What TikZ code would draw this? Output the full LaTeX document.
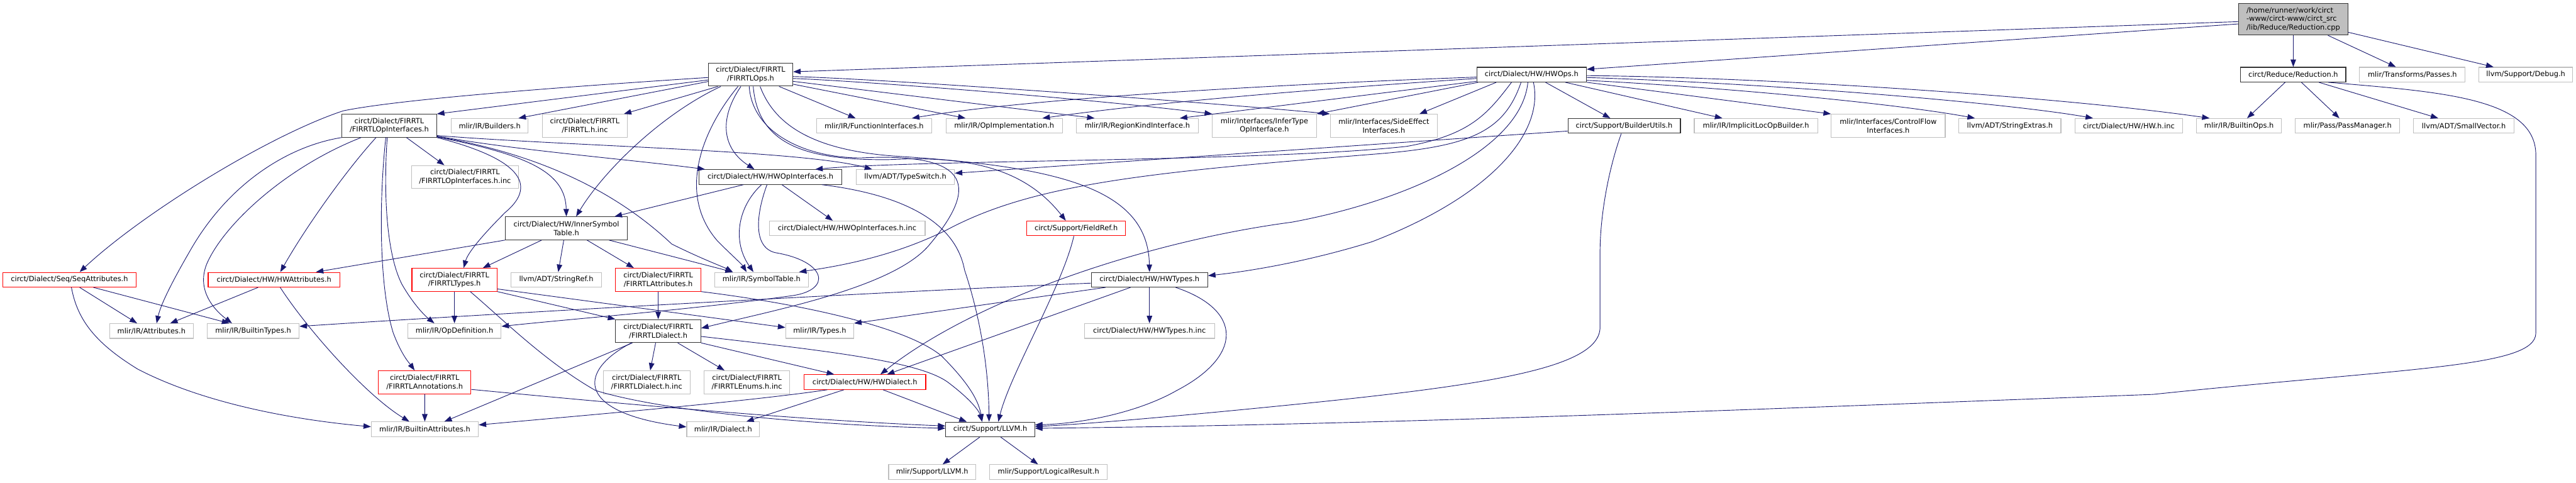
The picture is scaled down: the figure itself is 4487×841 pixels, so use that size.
\documentclass[tikz,border=0pt]{standalone}
\usepackage{fontspec}
\setmainfont{DejaVu Sans}
\usepackage{tikz}
\usetikzlibrary{arrows.meta}
\definecolor{EdgeBlue}{HTML}{191970}
\definecolor{BoxGrey}{HTML}{BFBFBF}
\definecolor{BoxRed}{HTML}{FF0000}

\begin{document}
\begin{tikzpicture}[x=1pt, y=-1pt,
  hdr/.style={rectangle, draw=BoxGrey, line width=1.2pt, fill=white, inner xsep=6pt, inner ysep=3pt,
    minimum height=25.6pt, align=center, font=\fontsize{12.5}{15}\selectfont},
  hdrdoc/.style={hdr, draw=black!80},
  hdrcut/.style={hdr, draw=BoxRed},
  hdrroot/.style={hdr, draw=black!80, fill=BoxGrey, align=left},
  twoline/.style={minimum height=40pt},
  incl/.style={draw=EdgeBlue, line width=1pt, -{Triangle[length=13pt,width=9.5pt]}}]

% Canvas
\fill[white] (0,0) rectangle (4487,841);
\useasboundingbox (0,0) rectangle (4487,841);

% Source file
\node[hdrroot, minimum width=191pt, minimum height=55pt] (root) at (3994.5,33.5) {/home/runner/work/circt\\-www/circt-www/circt\_src\\/lib/Reduce/Reduction.cpp};

% Headers - row 1
\node[hdrdoc, twoline, minimum width=147pt] (firOps) at (1307.5,130) {circt/Dialect/FIRRTL\\/FIRRTLOps.h};
\node[hdrdoc, minimum width=191pt] (hwOps) at (2667.8,130) {circt/Dialect/HW/HWOps.h};
\node[hdrdoc, minimum width=183pt] (redH) at (3994.5,130) {circt/Reduce/Reduction.h};
\node[hdr, minimum width=184pt] (passes) at (4202,130) {mlir/Transforms/Passes.h};
\node[hdr, minimum width=163pt] (debug) at (4399.5,130) {llvm/Support/Debug.h};

% Headers - row 2
\node[hdrdoc, twoline, minimum width=165pt] (firOpIf) at (678,219) {circt/Dialect/FIRRTL\\/FIRRTLOpInterfaces.h};
\node[hdr, minimum width=134pt] (builders) at (853,219.3) {mlir/IR/Builders.h};
\node[hdr, twoline, minimum width=148pt] (firInc) at (1018.7,219) {circt/Dialect/FIRRTL\\/FIRRTL.h.inc};
\node[hdr, minimum width=201pt] (funcIf) at (1522.5,219.3) {mlir/IR/FunctionInterfaces.h};
\node[hdr, minimum width=203pt] (opImpl) at (1749.2,219.3) {mlir/IR/OpImplementation.h};
\node[hdr, minimum width=213pt] (regionKind) at (1981,219.3) {mlir/IR/RegionKindInterface.h};
\node[hdr, twoline, minimum width=181pt] (inferType) at (2202.4,219) {mlir/Interfaces/InferType\\OpInterface.h};
\node[hdr, twoline, minimum width=187pt] (sideEffect) at (2410.5,219) {mlir/Interfaces/SideEffect\\Interfaces.h};
\node[hdrdoc, minimum width=196pt] (builderUtils) at (2829,219.3) {circt/Support/BuilderUtils.h};
\node[hdr, minimum width=215pt] (implicitLoc) at (3058.6,219.3) {mlir/IR/ImplicitLocOpBuilder.h};
\node[hdr, twoline, minimum width=198.5pt] (ctrlFlow) at (3289,219) {mlir/Interfaces/ControlFlow\\Interfaces.h};
\node[hdr, minimum width=177.5pt] (strExtras) at (3501,219.3) {llvm/ADT/StringExtras.h};
\node[hdr, minimum width=188pt] (hwInc) at (3708,219.3) {circt/Dialect/HW/HW.h.inc};
\node[hdr, minimum width=148pt] (builtinOps) at (3900,219.3) {mlir/IR/BuiltinOps.h};
\node[hdr, minimum width=182pt] (passMgr) at (4089,219.3) {mlir/Pass/PassManager.h};
\node[hdr, minimum width=175pt] (smallVec) at (4291.5,219.3) {llvm/ADT/SmallVector.h};

% Headers - row 3
\node[hdr, twoline, minimum width=187pt] (firOpIfInc) at (810,308.3) {circt/Dialect/FIRRTL\\/FIRRTLOpInterfaces.h.inc};
\node[hdrdoc, minimum width=249pt] (hwOpIf) at (1342,308.3) {circt/Dialect/HW/HWOpInterfaces.h};
\node[hdr, minimum width=171pt] (typeSwitch) at (1577,308.3) {llvm/ADT/TypeSwitch.h};

% Headers - row 4
\node[hdrdoc, twoline, minimum width=213pt] (innerSym) at (986.5,397.7) {circt/Dialect/HW/InnerSymbol\\Table.h};
\node[hdr, minimum width=271.6pt] (hwOpIfInc) at (1475.6,397.8) {circt/Dialect/HW/HWOpInterfaces.h.inc};
\node[hdrcut, minimum width=172pt] (fieldRef) at (1874.5,397.8) {circt/Support/FieldRef.h};

% Headers - row 5
\node[hdrcut, minimum width=232.4pt] (seqAttr) at (121,487.2) {circt/Dialect/Seq/SeqAttributes.h};
\node[hdrcut, minimum width=229.5pt] (hwAttr) at (477.3,487.2) {circt/Dialect/HW/HWAttributes.h};
\node[hdrcut, twoline, minimum width=148.2pt] (firTypes) at (791.6,487.3) {circt/Dialect/FIRRTL\\/FIRRTLTypes.h};
\node[hdr, minimum width=157pt] (strRef) at (969,487.2) {llvm/ADT/StringRef.h};
\node[hdrcut, twoline, minimum width=148.3pt] (firAttr) at (1146.5,487.3) {circt/Dialect/FIRRTL\\/FIRRTLAttributes.h};
\node[hdr, minimum width=163.5pt] (symTable) at (1326.4,487.2) {mlir/IR/SymbolTable.h};
\node[hdrdoc, minimum width=202.8pt] (hwTypes) at (2002.2,487.2) {circt/Dialect/HW/HWTypes.h};

% Headers - row 6
\node[hdr, minimum width=146pt] (attrs) at (263.8,576.5) {mlir/IR/Attributes.h};
\node[hdr, minimum width=160pt] (builtinTypes) at (441,576.5) {mlir/IR/BuiltinTypes.h};
\node[hdr, minimum width=162.6pt] (opDef) at (791.6,576.5) {mlir/IR/OpDefinition.h};
\node[hdrdoc, twoline, minimum width=148.3pt] (firDialect) at (1146.5,576.7) {circt/Dialect/FIRRTL\\/FIRRTLDialect.h};
\node[hdr, minimum width=118.5pt] (mlirTypes) at (1427.8,576.5) {mlir/IR/Types.h};
\node[hdr, minimum width=226.7pt] (hwTypesInc) at (2002.2,576.5) {circt/Dialect/HW/HWTypes.h.inc};

% Headers - row 7
\node[hdrcut, twoline, minimum width=161.2pt] (firAnno) at (739.7,665.8) {circt/Dialect/FIRRTL\\/FIRRTLAnnotations.h};
\node[hdr, twoline, minimum width=151pt] (firDialectInc) at (1126.4,665.8) {circt/Dialect/FIRRTL\\/FIRRTLDialect.h.inc};
\node[hdr, twoline, minimum width=149.2pt] (firEnumsInc) at (1301,665.8) {circt/Dialect/FIRRTL\\/FIRRTLEnums.h.inc};
\node[hdrcut, minimum width=212pt] (hwDialect) at (1506.5,665.5) {circt/Dialect/HW/HWDialect.h};

% Headers - rows 8 and 9
\node[hdr, minimum width=186.5pt] (builtinAttrs) at (740,747.7) {mlir/IR/BuiltinAttributes.h};
\node[hdr, minimum width=126.7pt] (mlirDialect) at (1259.6,747.7) {mlir/IR/Dialect.h};
\node[hdrdoc, minimum width=155pt] (llvmH) at (1724.8,748) {circt/Support/LLVM.h};
\node[hdr, minimum width=151.7pt] (mlirLLVM) at (1623.7,822.2) {mlir/Support/LLVM.h};
\node[hdr, minimum width=205.2pt] (logicalRes) at (1826.4,822.2) {mlir/Support/LogicalResult.h};

% Straight includes, centre to centre
\foreach \a/\b in {root/redH, root/passes, root/debug, redH/builtinOps, redH/passMgr, redH/smallVec,
  hwOps/builderUtils, hwOps/implicitLoc, firOps/funcIf, firTypes/opDef, firAttr/firDialect,
  firAnno/builtinAttrs, hwTypes/hwTypesInc, llvmH/mlirLLVM, llvmH/logicalRes}
  \draw[incl] (\a) -- (\b);

% Reduction.cpp
\draw[incl] ([yshift=-4.2pt]root.west) -- ([yshift=5pt]firOps.east);
\draw[incl] ([yshift=-8.2pt]root.west) -- ([yshift=9.3pt]hwOps.east);

% Reduction.h
\draw[incl] ([xshift=61pt]redH.south) .. controls (4250,160) and (4417,170) .. (4417,270) -- (4417,580)
  .. controls (4417,640) and (4200,640) .. (3750,687) .. controls (3000,715) and (2400,740) .. ([yshift=2pt]llvmH.east);

% HWOps.h
\draw[incl] ([yshift=-4.3pt]hwOps.west) .. controls (2250,146) and (1800,170) .. ([xshift=66pt]funcIf.north);
\draw[incl] ([yshift=-6.7pt]hwOps.west) .. controls (2250,158) and (2000,180) .. ([xshift=66.5pt]opImpl.north);
\draw[incl] ([yshift=-11.7pt]hwOps.west) -- ([xshift=74pt]regionKind.north);
\draw[incl] ([xshift=3pt]hwOps.south west) -- (inferType.north east);
\draw[incl] ([xshift=-61.5pt]hwOps.south) -- ([xshift=62pt]sideEffect.north);
\draw[incl] ([xshift=-35pt]hwOps.south) .. controls (2590,200) and (2560,235) .. (2450,255)
  .. controls (2200,282) and (1600,278) .. ([xshift=78pt]hwOpIf.north);
\draw[incl] ([xshift=-18.4pt]hwOps.south) .. controls (2620,230) and (2560,255) .. (2400,268)
  .. controls (2000,300) and (1800,320) .. (1650,400) .. controls (1550,450) and (1450,465) .. ([xshift=-17pt]symTable.north east);
\draw[incl] ([xshift=-6.5pt]hwOps.south) .. controls (2650,260) and (2450,350) .. (2250,387)
  .. controls (2000,420) and (1700,520) .. ([xshift=27pt]hwDialect.north);
\draw[incl] ([xshift=3.2pt]hwOps.south) .. controls (2690,230) and (2600,340) .. (2390,421)
  .. controls (2280,455) and (2180,472) .. ([yshift=7pt]hwTypes.east);
\draw[incl] (hwOps.south east) -- (ctrlFlow.north west);
\draw[incl] ([yshift=-10pt]hwOps.east) .. controls (3000,152) and (3300,180) .. ([xshift=-61pt]strExtras.north);
\draw[incl] ([yshift=-5pt]hwOps.east) .. controls (3100,146) and (3500,180) .. ([xshift=-62.3pt]hwInc.north);
\draw[incl] ([yshift=-1.7pt]hwOps.east) .. controls (3100,135) and (3600,170) .. ([xshift=-51.3pt]builtinOps.north);

% FIRRTLOps.h
\draw[incl] ([yshift=-5pt]firOps.west) .. controls (1000,150) and (700,172) .. (598,193)
  .. controls (470,235) and (250,370) .. ([xshift=17.7pt]seqAttr.north);
\draw[incl] ([yshift=-9.3pt]firOps.west) -- (firOpIf.north east);
\draw[incl] ([yshift=-12pt]firOps.west) -- ([xshift=50pt]builders.north);
\draw[incl] ([xshift=-57pt]firOps.south) -- ([xshift=68pt]firInc.north);
\draw[incl] ([xshift=-52pt]firOps.south) .. controls (1150,200) and (1050,300) .. ([xshift=17pt]innerSym.north);
\draw[incl] ([xshift=-22pt]firOps.south) .. controls (1220,230) and (1180,340) .. (1250,420)
  .. controls (1275,445) and (1292,460) .. ([xshift=-26pt]symTable.north);
\draw[incl] ([xshift=-17pt]firOps.south) .. controls (1250,210) and (1260,260) .. ([xshift=-28pt]hwOpIf.north);
\draw[incl] ([xshift=-2.5pt]firOps.south) .. controls (1310,230) and (1400,275) .. (1500,275)
  .. controls (1700,265) and (1700,330) .. (1620,425) .. controls (1560,500) and (1350,540) .. ([yshift=5pt]firDialect.east);
\draw[incl] ([xshift=4.5pt]firOps.south) .. controls (1320,250) and (1400,280) .. (1550,278)
  .. controls (1700,270) and (1790,300) .. ([xshift=-18pt]fieldRef.north);
\draw[incl] ([xshift=16.5pt]firOps.south) .. controls (1350,220) and (1420,262) .. (1560,272)
  .. controls (1850,290) and (2000,330) .. (hwTypes.north);
\draw[incl] ([yshift=-16.7pt]firOps.east) -- ([xshift=-67.4pt]opImpl.north);
\draw[incl] ([yshift=-11.7pt]firOps.east) -- ([xshift=-74.4pt]regionKind.north);
\draw[incl] ([yshift=-6.7pt]firOps.east) .. controls (1500,141) and (1900,172) .. (inferType.north west);
\draw[incl] ([yshift=-3.3pt]firOps.east) .. controls (1550,138) and (2100,178) .. (sideEffect.north west);

% FIRRTLOpInterfaces.h
\draw[incl] ([xshift=30pt]firOpIf.south) -- ([xshift=-36pt]firOpIfInc.north);
\draw[incl] (firOpIf.south west) .. controls (500,255) and (400,320) .. (335,430)
  .. controls (300,490) and (280,530) .. ([xshift=9pt]attrs.north);
\draw[incl] ([xshift=-49pt]firOpIf.south) .. controls (500,290) and (390,390) .. (360,460)
  .. controls (340,510) and (380,545) .. ([xshift=-37pt]builtinTypes.north);
\draw[incl] ([xshift=-23pt]firOpIf.south) .. controls (600,300) and (530,400) .. ([xshift=11pt]hwAttr.north);
\draw[incl] ([xshift=-6pt]firOpIf.south) .. controls (660,350) and (660,500) .. (685,580)
  .. controls (700,620) and (715,635) .. ([xshift=-17.5pt]firAnno.north);
\draw[incl] ([xshift=-3.5pt]firOpIf.south) .. controls (668,330) and (672,440) .. (700,495)
  .. controls (720,530) and (740,550) .. ([xshift=-35pt]opDef.north);
\draw[incl] (firOpIf.south east) .. controls (900,275) and (940,320) .. (880,370)
  .. controls (840,410) and (815,440) .. ([xshift=16pt]firTypes.north);
\draw[incl] ([yshift=1pt]firOpIf.south east) .. controls (920,270) and (985,300) .. (innerSym.north);
\draw[incl] ([yshift=1.5pt]firOpIf.south east) .. controls (950,270) and (1080,340) .. (1170,425)
  .. controls (1220,450) and (1260,465) .. ([xshift=-50pt]symTable.north);
\draw[incl] ([yshift=2.5pt]firOpIf.south east) .. controls (900,262) and (1100,278) .. ([xshift=-114pt]hwOpIf.north);
\draw[incl] ([yshift=3.5pt]firOpIf.south east) .. controls (1000,255) and (1400,262) .. ([xshift=-58pt]typeSwitch.north);

% HWOpInterfaces.h
\draw[incl] ([xshift=-47pt]hwOpIf.south) -- ([xshift=84pt]innerSym.north);
\draw[incl] ([xshift=-15.5pt]hwOpIf.south) .. controls (1285,360) and (1275,420) .. ([xshift=-14pt]symTable.north);
\draw[incl] ([xshift=-6pt]hwOpIf.south) .. controls (1318,370) and (1310,430) .. (1350,440)
  .. controls (1440,455) and (1450,505) .. (1380,515) .. controls (1200,540) and (1000,555) .. ([yshift=8pt]opDef.east);
\draw[incl] ([xshift=20pt]hwOpIf.south) -- ([xshift=-25pt]hwOpIfInc.north);
\draw[incl] ([xshift=89.6pt]hwOpIf.south) .. controls (1580,340) and (1665,390) .. (1680,470)
  .. controls (1710,560) and (1722,650) .. ([xshift=-2pt]llvmH.north);

% InnerSymbolTable.h
\draw[incl] (innerSym.south west) -- ([xshift=73pt]hwAttr.north);
\draw[incl] ([xshift=-43pt]innerSym.south) -- ([xshift=49.5pt]firTypes.north);
\draw[incl] ([xshift=-4.5pt]innerSym.south) -- ([xshift=3.4pt]strRef.north);
\draw[incl] ([xshift=36pt]innerSym.south) -- ([xshift=-42.5pt]firAttr.north);
\draw[incl] ([xshift=74.5pt]innerSym.south) -- ([xshift=-50pt]symTable.north);

% SeqAttributes.h and HWAttributes.h
\draw[incl] ([xshift=17.7pt]seqAttr.south) -- ([xshift=-25pt]attrs.north);
\draw[incl] ([xshift=41.6pt]seqAttr.south) -- ([xshift=-41.6pt]builtinTypes.north);
\draw[incl] ([xshift=3.4pt]seqAttr.south) .. controls (135,560) and (170,600) .. (240,643)
  .. controls (350,700) and (500,730) .. ([yshift=4.4pt]builtinAttrs.west);
\draw[incl] ([xshift=-27.7pt]hwAttr.south) -- ([xshift=32.7pt]attrs.north);
\draw[incl] ([xshift=10.7pt]hwAttr.south) .. controls (540,580) and (640,690) .. ([xshift=-27pt]builtinAttrs.north);

% FIRRTLAnnotations.h, FIRRTLTypes.h, FIRRTLAttributes.h
\draw[incl] ([yshift=-12.5pt]firAnno.east) .. controls (1100,705) and (1400,732) .. ([yshift=6pt]llvmH.west);
\draw[incl] (firTypes.south east) -- (firDialect.north west);
\draw[incl] ([yshift=-16pt]firTypes.east) -- ([yshift=6pt]mlirTypes.west);
\draw[incl] ([xshift=27.5pt]firTypes.south) .. controls (880,560) and (950,630) .. (1037,680)
  .. controls (1150,715) and (1400,740) .. ([yshift=2pt]llvmH.west);
\draw[incl] (firAttr.south east) .. controls (1400,530) and (1580,570) .. (1640,620)
  .. controls (1690,670) and (1705,700) .. ([xshift=-14pt]llvmH.north);

% FIRRTLDialect.h
\draw[incl] ([xshift=-4.5pt]firDialect.south) -- ([xshift=6.2pt]firDialectInc.north);
\draw[incl] ([xshift=34pt]firDialect.south) -- ([xshift=-39pt]firEnumsInc.north);
\draw[incl] (firDialect.south east) -- ([xshift=-53.5pt]hwDialect.north);
\draw[incl] ([yshift=-9.3pt]firDialect.east) .. controls (1450,612) and (1600,630) .. (1650,665)
  .. controls (1690,695) and (1705,715) .. ([xshift=-14pt]llvmH.north);
\draw[incl] ([xshift=-45pt]firDialect.south) -- ([xshift=34pt]builtinAttrs.north);
\draw[incl] ([xshift=-47pt]firDialect.south) .. controls (1000,650) and (1010,720) .. ([yshift=4pt]mlirDialect.west);

% HWDialect.h
\draw[incl] ([xshift=-65.5pt]hwDialect.south) .. controls (1300,700) and (1000,725) .. ([yshift=7.5pt]builtinAttrs.east);
\draw[incl] ([xshift=-36.5pt]hwDialect.south) -- ([xshift=40.4pt]mlirDialect.north);
\draw[incl] ([xshift=31.5pt]hwDialect.south) -- ([xshift=-41pt]llvmH.north);

% HWTypes.h
\draw[incl] ([xshift=-33pt]hwTypes.south) -- ([xshift=38.5pt]hwDialect.north);
\draw[incl] ([xshift=-76.5pt]hwTypes.south) -- (mlirTypes.north east);
\draw[incl] ([yshift=-6pt]hwTypes.west) .. controls (1500,510) and (800,550) .. ([yshift=8pt]builtinTypes.east);
\draw[incl] ([xshift=45.5pt]hwTypes.south) .. controls (2165,540) and (2165,620) .. (2050,680)
  .. controls (1980,720) and (1880,738) .. ([yshift=8pt]llvmH.east);

% BuilderUtils.h and FieldRef.h
\draw[incl] ([yshift=-9pt]builderUtils.west) -- ([yshift=6.6pt]typeSwitch.east);
\draw[incl] ([xshift=-5pt]builderUtils.south) .. controls (2800,300) and (2787,380) .. (2787,440) -- (2787,570)
  .. controls (2787,640) and (2600,670) .. (2250,705) .. controls (2050,725) and (1900,738) .. ([yshift=5pt]llvmH.east);
\draw[incl] ([xshift=-4pt]fieldRef.south) .. controls (1850,500) and (1760,650) .. ([xshift=14pt]llvmH.north);
\end{tikzpicture}
\end{document}
